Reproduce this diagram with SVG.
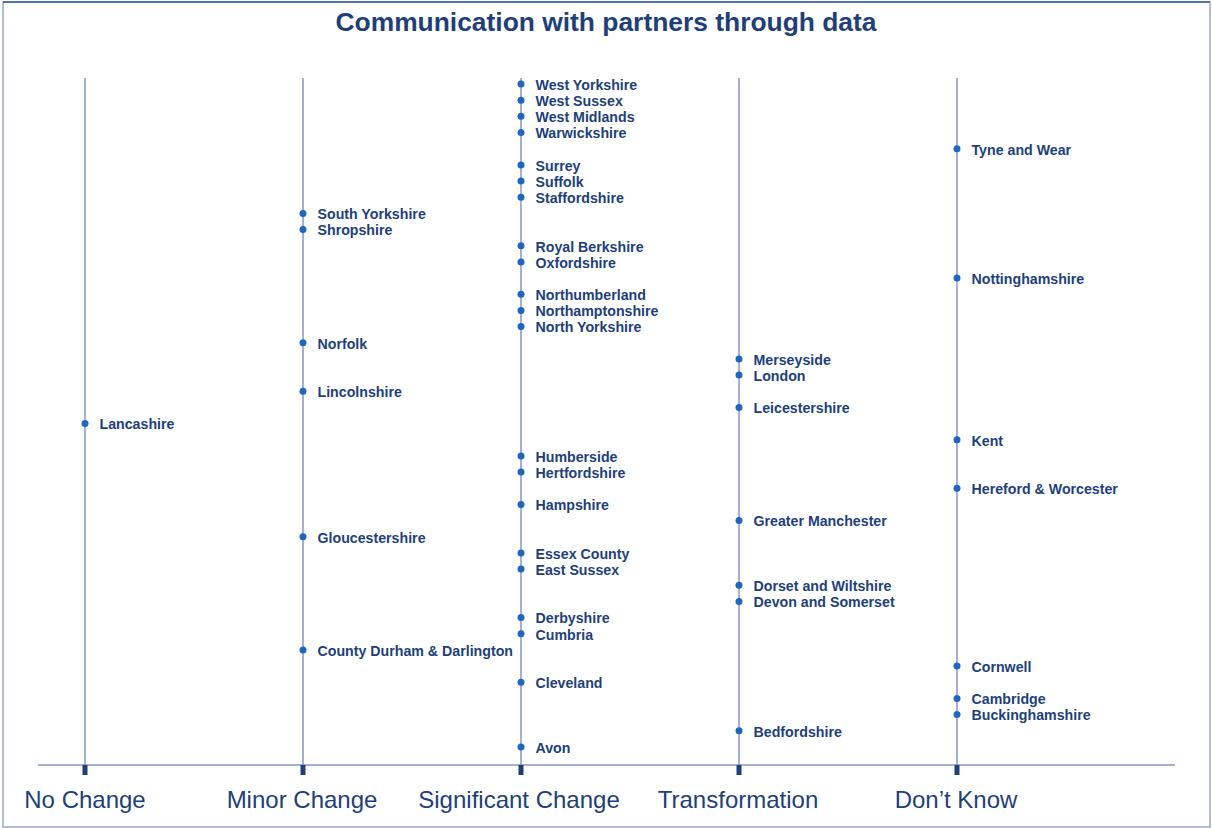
<svg xmlns="http://www.w3.org/2000/svg" width="1212" height="828" viewBox="0 0 1212 828">
<style>
.frame{fill:#fff;stroke:#9aa6c4;stroke-width:1.5}
.col{stroke:#8496c6;stroke-width:1.5}
.axis{stroke:#8496c6;stroke-width:1.5}
.tick{fill:#1e3f7a}
.dot{fill:#1f66bd}
.lbl{font-family:"Liberation Sans",Arial,sans-serif;font-weight:bold;font-size:14.2px;fill:#1e3f7a}
.cat{font-family:"Liberation Sans",Arial,sans-serif;font-size:24px;fill:#1e3f7a;text-anchor:middle}
.title{font-family:"Liberation Sans",Arial,sans-serif;font-weight:bold;font-size:26.4px;fill:#1e3f7a;text-anchor:middle}
</style>
<rect class="frame" x="3" y="2" width="1207" height="825"/>
<line x1="3" y1="2" x2="1210" y2="2" stroke="#2e5a9c" stroke-width="1.5"/>
<text class="title" x="606" y="31">Communication with partners through data</text>
<g id="axis">
<line class="axis" x1="38" y1="765" x2="1175" y2="765"/>
</g>
<g id="connectors">
<line class="col" x1="85" y1="78" x2="85" y2="765"/>
<line class="col" x1="303" y1="78" x2="303" y2="765"/>
<line class="col" x1="521" y1="78" x2="521" y2="765"/>
<line class="col" x1="739" y1="78" x2="739" y2="765"/>
<line class="col" x1="957" y1="78" x2="957" y2="765"/>
</g>
<g id="ticks">
<rect class="tick" x="82.5" y="765" width="5" height="10"/>
<rect class="tick" x="300.5" y="765" width="5" height="10"/>
<rect class="tick" x="518.5" y="765" width="5" height="10"/>
<rect class="tick" x="736.5" y="765" width="5" height="10"/>
<rect class="tick" x="954.5" y="765" width="5" height="10"/>
</g>
<g id="cat-no-change"><text class="cat" x="85" y="808">No Change</text></g>
<g id="cat-minor-change"><text class="cat" x="302" y="808">Minor Change</text></g>
<g id="cat-significant-change"><text class="cat" x="519" y="808">Significant Change</text></g>
<g id="cat-transformation"><text class="cat" x="738" y="808">Transformation</text></g>
<g id="cat-dont-know"><text class="cat" x="956" y="808">Don’t Know</text></g>

<g id="n-lancashire"><circle class="dot" cx="85" cy="423.6" r="3.5"/><text class="lbl" x="99.5" y="429.4">Lancashire</text></g>

<g id="n-south-yorkshire"><circle class="dot" cx="303" cy="213.4" r="3.5"/><text class="lbl" x="317.5" y="219.2">South Yorkshire</text></g>
<g id="n-shropshire"><circle class="dot" cx="303" cy="229.5" r="3.5"/><text class="lbl" x="317.5" y="235.3">Shropshire</text></g>
<g id="n-norfolk"><circle class="dot" cx="303" cy="342.7" r="3.5"/><text class="lbl" x="317.5" y="348.5">Norfolk</text></g>
<g id="n-lincolnshire"><circle class="dot" cx="303" cy="391.2" r="3.5"/><text class="lbl" x="317.5" y="397">Lincolnshire</text></g>
<g id="n-gloucestershire"><circle class="dot" cx="303" cy="536.8" r="3.5"/><text class="lbl" x="317.5" y="542.6">Gloucestershire</text></g>
<g id="n-county-durham"><circle class="dot" cx="303" cy="650" r="3.5"/><text class="lbl" x="317.5" y="655.8">County Durham &amp; Darlington</text></g>

<g id="n-west-yorkshire"><circle class="dot" cx="521" cy="84" r="3.5"/><text class="lbl" x="535.5" y="89.8">West Yorkshire</text></g>
<g id="n-west-sussex"><circle class="dot" cx="521" cy="100.2" r="3.5"/><text class="lbl" x="535.5" y="106">West Sussex</text></g>
<g id="n-west-midlands"><circle class="dot" cx="521" cy="116.3" r="3.5"/><text class="lbl" x="535.5" y="122.1">West Midlands</text></g>
<g id="n-warwickshire"><circle class="dot" cx="521" cy="132.5" r="3.5"/><text class="lbl" x="535.5" y="138.3">Warwickshire</text></g>
<g id="n-surrey"><circle class="dot" cx="521" cy="164.9" r="3.5"/><text class="lbl" x="535.5" y="170.7">Surrey</text></g>
<g id="n-suffolk"><circle class="dot" cx="521" cy="181" r="3.5"/><text class="lbl" x="535.5" y="186.8">Suffolk</text></g>
<g id="n-staffordshire"><circle class="dot" cx="521" cy="197.2" r="3.5"/><text class="lbl" x="535.5" y="203">Staffordshire</text></g>
<g id="n-royal-berkshire"><circle class="dot" cx="521" cy="245.7" r="3.5"/><text class="lbl" x="535.5" y="251.5">Royal Berkshire</text></g>
<g id="n-oxfordshire"><circle class="dot" cx="521" cy="261.9" r="3.5"/><text class="lbl" x="535.5" y="267.7">Oxfordshire</text></g>
<g id="n-northumberland"><circle class="dot" cx="521" cy="294.2" r="3.5"/><text class="lbl" x="535.5" y="300">Northumberland</text></g>
<g id="n-northamptonshire"><circle class="dot" cx="521" cy="310.4" r="3.5"/><text class="lbl" x="535.5" y="316.2">Northamptonshire</text></g>
<g id="n-north-yorkshire"><circle class="dot" cx="521" cy="326.6" r="3.5"/><text class="lbl" x="535.5" y="332.4">North Yorkshire</text></g>
<g id="n-humberside"><circle class="dot" cx="521" cy="455.9" r="3.5"/><text class="lbl" x="535.5" y="461.7">Humberside</text></g>
<g id="n-hertfordshire"><circle class="dot" cx="521" cy="472" r="3.5"/><text class="lbl" x="535.5" y="477.8">Hertfordshire</text></g>
<g id="n-hampshire"><circle class="dot" cx="521" cy="504.4" r="3.5"/><text class="lbl" x="535.5" y="510.2">Hampshire</text></g>
<g id="n-essex-county"><circle class="dot" cx="521" cy="552.9" r="3.5"/><text class="lbl" x="535.5" y="558.7">Essex County</text></g>
<g id="n-east-sussex"><circle class="dot" cx="521" cy="569.1" r="3.5"/><text class="lbl" x="535.5" y="574.9">East Sussex</text></g>
<g id="n-derbyshire"><circle class="dot" cx="521" cy="617.6" r="3.5"/><text class="lbl" x="535.5" y="623.4">Derbyshire</text></g>
<g id="n-cumbria"><circle class="dot" cx="521" cy="633.8" r="3.5"/><text class="lbl" x="535.5" y="639.6">Cumbria</text></g>
<g id="n-cleveland"><circle class="dot" cx="521" cy="682.3" r="3.5"/><text class="lbl" x="535.5" y="688.1">Cleveland</text></g>
<g id="n-avon"><circle class="dot" cx="521" cy="747" r="3.5"/><text class="lbl" x="535.5" y="752.8">Avon</text></g>

<g id="n-merseyside"><circle class="dot" cx="739" cy="358.9" r="3.5"/><text class="lbl" x="753.5" y="364.7">Merseyside</text></g>
<g id="n-london"><circle class="dot" cx="739" cy="375" r="3.5"/><text class="lbl" x="753.5" y="380.8">London</text></g>
<g id="n-leicestershire"><circle class="dot" cx="739" cy="407.4" r="3.5"/><text class="lbl" x="753.5" y="413.2">Leicestershire</text></g>
<g id="n-greater-manchester"><circle class="dot" cx="739" cy="520.6" r="3.5"/><text class="lbl" x="753.5" y="526.4">Greater Manchester</text></g>
<g id="n-dorset-wiltshire"><circle class="dot" cx="739" cy="585.3" r="3.5"/><text class="lbl" x="753.5" y="591.1">Dorset and Wiltshire</text></g>
<g id="n-devon-somerset"><circle class="dot" cx="739" cy="601.4" r="3.5"/><text class="lbl" x="753.5" y="607.2">Devon and Somerset</text></g>
<g id="n-bedfordshire"><circle class="dot" cx="739" cy="730.8" r="3.5"/><text class="lbl" x="753.5" y="736.6">Bedfordshire</text></g>

<g id="n-tyne-and-wear"><circle class="dot" cx="957" cy="148.7" r="3.5"/><text class="lbl" x="971.5" y="154.5">Tyne and Wear</text></g>
<g id="n-nottinghamshire"><circle class="dot" cx="957" cy="278" r="3.5"/><text class="lbl" x="971.5" y="283.8">Nottinghamshire</text></g>
<g id="n-kent"><circle class="dot" cx="957" cy="439.7" r="3.5"/><text class="lbl" x="971.5" y="445.5">Kent</text></g>
<g id="n-hereford-worcester"><circle class="dot" cx="957" cy="488.3" r="3.5"/><text class="lbl" x="971.5" y="494.1">Hereford &amp; Worcester</text></g>
<g id="n-cornwell"><circle class="dot" cx="957" cy="666" r="3.5"/><text class="lbl" x="971.5" y="671.8">Cornwell</text></g>
<g id="n-cambridge"><circle class="dot" cx="957" cy="698.5" r="3.5"/><text class="lbl" x="971.5" y="704.3">Cambridge</text></g>
<g id="n-buckinghamshire"><circle class="dot" cx="957" cy="714.6" r="3.5"/><text class="lbl" x="971.5" y="720.4">Buckinghamshire</text></g>
</svg>
